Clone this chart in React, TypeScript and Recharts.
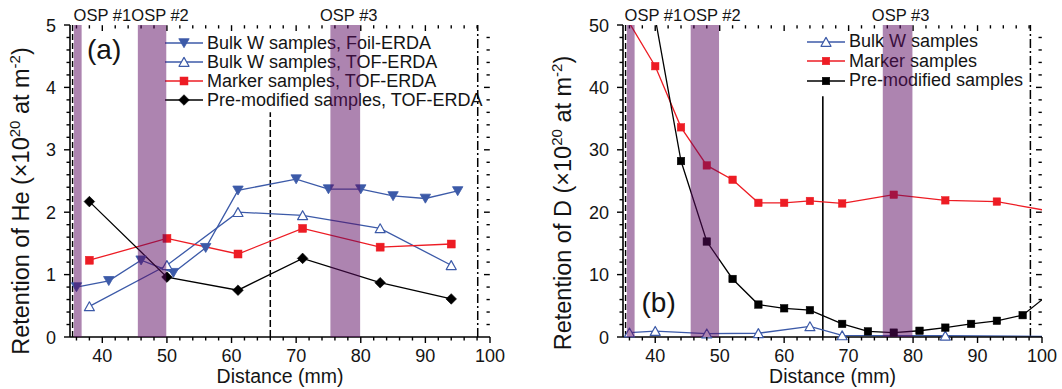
import React from 'react';
import { LineChart, Line, XAxis, YAxis, ReferenceArea, ReferenceLine } from 'recharts';

const FONT = '"Liberation Sans", Arial, Helvetica, sans-serif';
const BLUE = '#3c5aa8';
const RED = '#ed1c24';
const BLACK = '#000000';
const BAND = '#5c0a62';
const INK = '#141414';

// (a) retention of He vs distance (mm)
const heFoilDist = [36, 41, 46, 51, 56, 61, 70, 75, 80, 85, 90, 95];
const heFoilVal = [0.8, 0.9, 1.23, 1.03, 1.43, 2.35, 2.53, 2.37, 2.37, 2.26, 2.22, 2.34];
const heTofDist = [38, 50, 61, 71, 83, 94];
const heBulkTofVal = [0.49, 1.15, 2.0, 1.95, 1.74, 1.15];
const heMarkerVal = [1.23, 1.58, 1.33, 1.74, 1.44, 1.49];
const hePremodVal = [2.17, 0.96, 0.75, 1.26, 0.87, 0.61];
const heNames = [
  'Bulk W samples, Foil-ERDA',
  'Bulk W samples, TOF-ERDA',
  'Marker samples, TOF-ERDA',
  'Pre-modified samples, TOF-ERDA',
];

// (b) retention of D vs distance (mm)
const dBulkDist = [36, 40, 48, 56, 64, 69, 85, 101];
const dBulkVal = [0.7, 0.95, 0.55, 0.6, 1.7, 0.25, 0.2, 0.1];
const dMarkerDist = [36, 40, 44, 48, 52, 56, 60, 64, 69, 77, 85, 93, 101];
const dMarkerVal = [50.3, 43.4, 33.6, 27.5, 25.2, 21.5, 21.5, 21.8, 21.4, 22.8, 21.9, 21.7, 20.2];
const dPremodDist = [40, 44, 48, 52, 56, 60, 64, 69, 73, 77, 81, 85, 89, 93, 97, 101];
const dPremodVal = [51.1, 28.2, 15.3, 9.3, 5.2, 4.6, 4.3, 2.1, 0.9, 0.7, 1.0, 1.5, 2.1, 2.6, 3.5, 6.8];
const dNames = ['Bulk W samples', 'Marker samples', 'Pre-modified samples'];

// outer strike points (mm)
const ospNames = ['OSP #1', 'OSP #2', 'OSP #3'];
const ospFrom = [35.6, 45.5, 75.3];
const ospTo = [36.8, 49.9, 79.9];

const range = (a: number, b: number, step: number) => {
  const out: number[] = [];
  for (let v = a; v <= b + 1e-9; v += step) out.push(Math.round(v * 1000) / 1000);
  return out;
};
const distTicks = range(36, 98, 2);
const heTicks = range(0.2, 4.8, 0.2);
const dTicks = range(2, 48, 2);

const pts = (xs: number[], ys: number[]) => xs.map((x, i) => ({ x, y: ys[i] }));
const inView = (p: { x: number; y: number }[], xMax: number, yMax: number) =>
  p.filter((d) => d.x <= xMax && d.y <= yMax);

const axisLineStyle = { stroke: '#000', strokeWidth: 1.6 };
const isMajor = (v: number, every: number) => Math.abs(v / every - Math.round(v / every)) < 1e-6;

const Marker = ({ shape, cx, cy, color, size = 8 }: any) => {
  const h = size / 2;
  if (shape === 'down')
    return <path d={`M${cx - 5.2},${cy - 4.3}L${cx + 5.2},${cy - 4.3}L${cx},${cy + 4.7}Z`} fill={color} stroke={color} strokeWidth={0.8} strokeLinejoin="round" />;
  if (shape === 'up')
    return <path d={`M${cx - 5},${cy + 4.3}L${cx + 5},${cy + 4.3}L${cx},${cy - 4.6}Z`} fill="#fff" stroke={color} strokeWidth={1.2} strokeLinejoin="round" />;
  if (shape === 'diamond')
    return <path d={`M${cx},${cy - 5.3}L${cx + 5.3},${cy}L${cx},${cy + 5.3}L${cx - 5.3},${cy}Z`} fill={color} stroke={color} strokeWidth={0.6} />;
  return <rect x={cx - h} y={cy - h} width={size} height={size} fill={color} stroke={color} strokeWidth={0.5} />;
};

const dotOf = (shape: string, color: string, size?: number) => (p: any) =>
  p.cx == null ? <g key={p.index} /> : <Marker key={p.index} shape={shape} cx={p.cx} cy={p.cy} color={color} size={size} />;

const AxisTick = (props: any) => {
  const { x, y, payload, edge, every } = props;
  const v = payload.value;
  const major = isMajor(v, every);
  const len = major ? 6 : 3.5;
  const s = { stroke: '#000', strokeWidth: 1.4 };
  const t = { fontSize: 18, fontFamily: FONT, fill: INK };
  const lab = String(Math.round(v));
  if (edge === 'bottom')
    return (
      <g>
        <line x1={x} y1={y} x2={x} y2={y + len} {...s} />
        {major && <text x={x} y={y + 25} textAnchor="middle" {...t}>{lab}</text>}
      </g>
    );
  return (
    <g>
      <line x1={x} y1={y} x2={x - len} y2={y} {...s} />
      {major && <text x={x - 14} y={y + 6.5} textAnchor="end" {...t}>{lab}</text>}
    </g>
  );
};

// top and right frame with inward ticks (kept just inside the domain edge)
const mirrorFrame = (xTicks: number[], yTicks: number[], xEvery: number, yEvery: number,
  xMax: number, yMax: number, xPerPx: number, yPerPx: number) => {
  const xIn = xMax - 0.2 * xPerPx;
  const yIn = yMax - 0.2 * yPerPx;
  const out: React.ReactNode[] = [
    <ReferenceArea key="frame" fill="none" stroke="#000" strokeWidth={1.6} ifOverflow="visible" />,
  ];
  xTicks.forEach((v) => {
    const len = isMajor(v, xEvery) ? 6 : 3.5;
    out.push(<ReferenceLine key={`tx${v}`} ifOverflow="visible" segment={[{ x: v, y: yIn }, { x: v, y: yMax - len * yPerPx }]} stroke="#000" strokeWidth={1.4} />);
  });
  yTicks.forEach((v) => {
    const len = isMajor(v, yEvery) ? 6 : 3.5;
    out.push(<ReferenceLine key={`ty${v}`} ifOverflow="visible" segment={[{ x: xIn, y: v }, { x: xMax - len * xPerPx, y: v }]} stroke="#000" strokeWidth={1.4} />);
  });
  return out;
};

const XTitle = ({ px, py }: any) => (
  <text x={px} y={py} textAnchor="middle" fontSize={19.5} fontFamily={FONT} fill={INK}>Distance (mm)</text>
);

const YTitle = ({ px, py, species }: any) => (
  <text transform={`translate(${px},${py}) rotate(-90)`} x={0} y={8} textAnchor="middle" fontSize={23.5} fontFamily={FONT} fill={INK}>
    {`Retention of ${species} (\u00d710`}
    <tspan dy={-9} fontSize={15}>20</tspan>
    <tspan dy={9}> at m</tspan>
    <tspan dy={-9} fontSize={15}>-2</tspan>
    <tspan dy={9}>)</tspan>
  </text>
);

const bandLabel = (text: string, dx: number) => (props: any) => {
  const vb = props.viewBox || { x: 0, y: 0, width: 0 };
  return (
    <text x={vb.x + vb.width / 2 + dx} y={vb.y - 4} textAnchor="middle" fontSize={16.5} fontFamily={FONT} fill={INK}>
      {text}
    </text>
  );
};

const LegendBox = ({ left, top, gap, items }: any) => (
  <div style={{ position: 'absolute', left, top, fontFamily: FONT, fontSize: 18, color: INK }}>
    {items.map((it: any) => (
      <div key={it.label} style={{ display: 'flex', alignItems: 'center', height: gap, whiteSpace: 'nowrap' }}>
        <svg width={38} height={12} style={{ overflow: 'visible' }}>
          <line x1={0} y1={6} x2={38} y2={6} stroke={it.color} strokeWidth={1.6} />
          <Marker shape={it.shape} cx={19} cy={6} color={it.color} size={it.size} />
        </svg>
        <span style={{ marginLeft: 4 }}>{it.label}</span>
      </div>
    ))}
  </div>
);

const heBands = [24.6, 8, 3.5];
const dBands = [22.6, 7, 3];
const xAxisTicks = [...distTicks, 100];

export default function App() {
  const heFoil = pts(heFoilDist, heFoilVal);
  const heBulk = pts(heTofDist, heBulkTofVal);
  const heMarker = pts(heTofDist, heMarkerVal);
  const hePremod = pts(heTofDist, hePremodVal);

  const dBulk = pts(dBulkDist, dBulkVal);
  const dMarker = pts(dMarkerDist, dMarkerVal);
  const dPremod = pts(dPremodDist, dPremodVal);

  const lineCommon = { type: 'linear' as const, dataKey: 'y', strokeWidth: 1.3, isAnimationActive: false, activeDot: false };

  return (
    <div style={{ position: 'absolute', left: 0, top: 0, width: 1062, height: 389, background: '#fff', fontFamily: FONT }}>
      <LegendBox
        left={165}
        top={33.5}
        gap={19}
        items={[
          { label: heNames[0], color: BLUE, shape: 'down' },
          { label: heNames[1], color: BLUE, shape: 'up' },
          { label: heNames[2], color: RED, shape: 'square', size: 8 },
          { label: heNames[3], color: BLACK, shape: 'diamond' },
        ]}
      />
      <LegendBox
        left={807}
        top={31.9}
        gap={19.6}
        items={[
          { label: dNames[0], color: BLUE, shape: 'up' },
          { label: dNames[1], color: RED, shape: 'square', size: 7.5 },
          { label: dNames[2], color: BLACK, shape: 'square', size: 7.5 },
        ]}
      />
      <svg width={1062} height={389} style={{ position: 'absolute', left: 0, top: 0 }}>
        <text x={87} y={58.5} fontSize={28} fontFamily={FONT} fill={INK}>(a)</text>
        <text x={641.5} y={312} fontSize={28} fontFamily={FONT} fill={INK}>(b)</text>
      </svg>

      <div style={{ position: 'absolute', left: 0, top: 0 }}>
        <LineChart width={530} height={389} margin={{ top: 25, right: 40, bottom: 0, left: 0 }}>
          <XAxis type="number" dataKey="x" domain={[35, 100]} ticks={xAxisTicks} interval={0} height={52}
            tickSize={0} tickMargin={0} tickLine={false} axisLine={axisLineStyle}
            tick={<AxisTick edge="bottom" every={10} />} label={<XTitle px={280} py={383} />} />
          <YAxis type="number" domain={[0, 5]} ticks={[0, ...heTicks, 5]} interval={0} width={70}
            tickSize={0} tickMargin={0} tickLine={false} axisLine={axisLineStyle}
            tick={<AxisTick edge="left" every={1} />} label={<YTitle px={21} py={201} species="He" />} />

          {mirrorFrame(distTicks, heTicks, 10, 1, 100, 5, 65 / 420, 5 / 312)}

          <ReferenceLine x={35.4} stroke="#000" strokeWidth={1.4} strokeDasharray="6 3" />
          <ReferenceLine x={98.1} stroke="#000" strokeWidth={1.5} strokeDasharray="9 3 2 3" />
          <ReferenceLine segment={[{ x: 66, y: 0 }, { x: 66, y: 3.6 }]} stroke="#000" strokeWidth={1.5} strokeDasharray="7 3" />

          <Line {...lineCommon} data={heFoil} stroke={BLUE} dot={dotOf('down', BLUE)} />
          <Line {...lineCommon} data={heBulk} stroke={BLUE} dot={dotOf('up', BLUE)} />
          <Line {...lineCommon} data={heMarker} stroke={RED} dot={dotOf('square', RED, 8)} />
          <Line {...lineCommon} data={hePremod} stroke={BLACK} dot={dotOf('diamond', BLACK)} />

          {ospNames.map((n, i) => (
            <ReferenceArea key={n} x1={ospFrom[i]} x2={ospTo[i]} fill={BAND} fillOpacity={0.5} stroke="none"
              zIndex={1000} label={bandLabel(n, heBands[i])} />
          ))}
        </LineChart>
      </div>

      <div style={{ position: 'absolute', left: 530, top: 0 }}>
        <LineChart width={532} height={389} margin={{ top: 25, right: 20, bottom: 0, left: 0 }}>
          <XAxis type="number" dataKey="x" domain={[35, 100]} allowDataOverflow ticks={xAxisTicks} interval={0} height={52}
            tickSize={0} tickMargin={0} tickLine={false} axisLine={axisLineStyle}
            tick={<AxisTick edge="bottom" every={10} />} label={<XTitle px={302.5} py={383} />} />
          <XAxis xAxisId="m" type="number" dataKey="x" domain={[35, 100]} hide />
          <YAxis type="number" domain={[0, 50]} allowDataOverflow ticks={[0, ...dTicks, 50]} interval={0} width={93}
            tickSize={0} tickMargin={0} tickLine={false} axisLine={axisLineStyle}
            tick={<AxisTick edge="left" every={10} />} label={<YTitle px={33} py={203} species="D" />} />
          <YAxis yAxisId="m" type="number" domain={[0, 50]} hide />

          {mirrorFrame(distTicks, dTicks, 10, 10, 100, 50, 65 / 419, 50 / 312)}

          <ReferenceLine x={35.4} stroke="#000" strokeWidth={1.4} strokeDasharray="6 3" />
          <ReferenceLine x={98.2} stroke="#000" strokeWidth={1.5} strokeDasharray="9 3 2 3" />
          <ReferenceLine segment={[{ x: 66, y: 0 }, { x: 66, y: 38.6 }]} stroke="#000" strokeWidth={1.6} />

          <Line {...lineCommon} data={dBulk} stroke={BLUE} dot={false} />
          <Line {...lineCommon} data={dMarker} stroke={RED} dot={false} />
          <Line {...lineCommon} data={dPremod} stroke={BLACK} dot={false} />

          <Line {...lineCommon} xAxisId="m" yAxisId="m" data={inView(dBulk, 100, 50)} stroke="none" dot={dotOf('up', BLUE)} />
          <Line {...lineCommon} xAxisId="m" yAxisId="m" data={inView(dMarker, 100, 50)} stroke="none" dot={dotOf('square', RED, 7.5)} />
          <Line {...lineCommon} xAxisId="m" yAxisId="m" data={inView(dPremod, 100, 50)} stroke="none" dot={dotOf('square', BLACK, 7.5)} />

          {ospNames.map((n, i) => (
            <ReferenceArea key={n} x1={ospFrom[i]} x2={ospTo[i]} fill={BAND} fillOpacity={0.5} stroke="none"
              zIndex={1000} label={bandLabel(n, dBands[i])} />
          ))}
        </LineChart>
      </div>
    </div>
  );
}
